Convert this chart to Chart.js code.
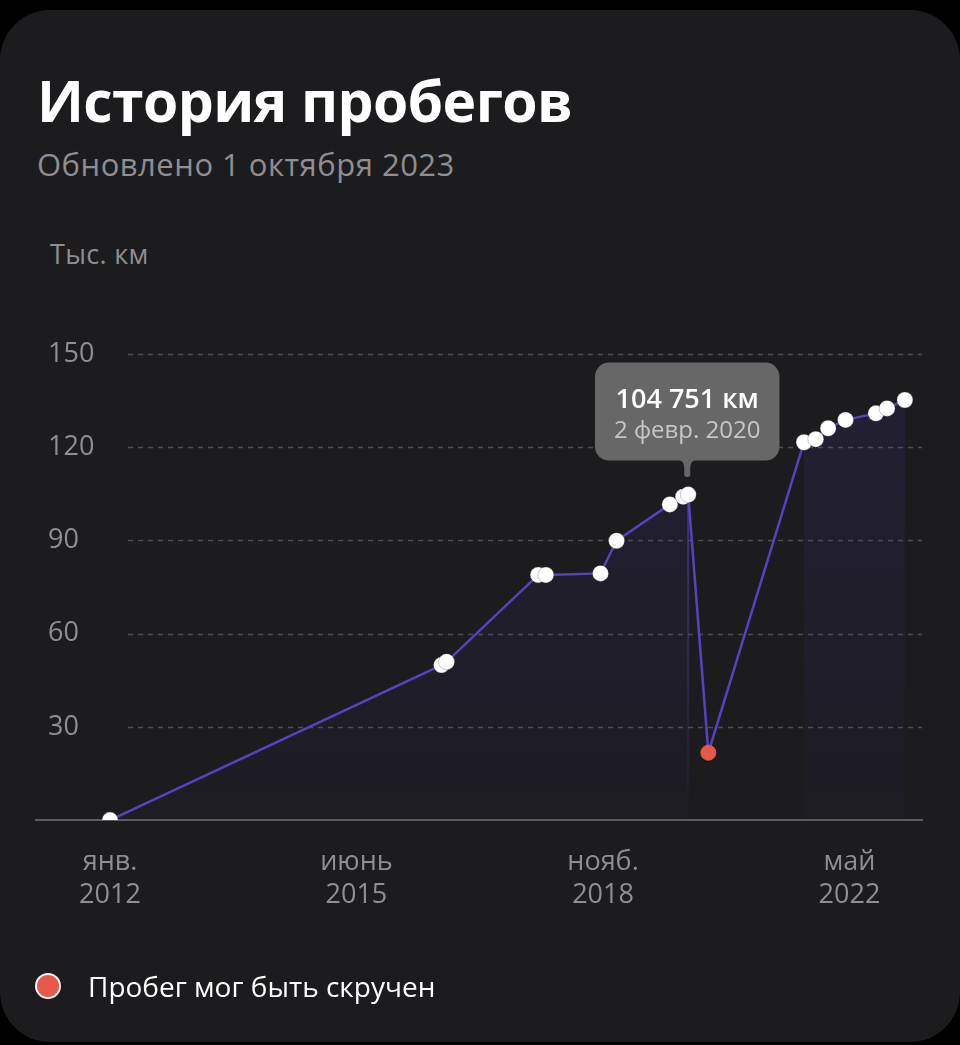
<!DOCTYPE html>
<html lang="ru">
<head>
<meta charset="utf-8">
<title>История пробегов</title>
<script src="https://cdn.jsdelivr.net/npm/chart.js@4.4.0/dist/chart.umd.min.js"></script>
<style>
  html, body { margin: 0; width: 960px; height: 1045px; background: #000; overflow: hidden; font-family: "Open Sans", sans-serif; }
  .card { position: absolute; left: 0; top: 10px; width: 960px; height: 1032px; background: #1c1c1e; border-radius: 50px; }
  .title { position: absolute; left: 37px; top: 72px; margin: 0; font-size: 57px; line-height: 1; font-weight: 700; color: #fff; letter-spacing: -0.6px; }
  .subtitle { position: absolute; left: 37px; top: 149px; font-size: 31px; line-height: 1; color: #8e8e93; letter-spacing: 0.5px; }
  .unit { position: absolute; left: 50px; top: 240px; font-size: 27px; line-height: 1; color: #8e8e93; letter-spacing: 0.3px; }
  .legend { position: absolute; left: 35px; top: 967px; display: flex; align-items: center; font-size: 28px; color: #fff; }
  .legend i { display: inline-block; width: 22px; height: 22px; border-radius: 50%; background: #e5584b; border: 2px solid #f2f2f2; margin-right: 27px; }
  canvas { position: absolute; left: 0; top: 0; }
</style>
</head>
<body>
<div class="card"></div>
<h1 class="title">История пробегов</h1>
<div class="subtitle">Обновлено 1 октября 2023</div>
<div class="unit">Тыс. км</div>
<canvas id="chart" width="960" height="1045"></canvas>
<div class="legend"><i></i>Пробег мог быть скручен</div>
<script>
// --- данные ---
const dates = [
  "2012-01-01", "2016-08-21", "2016-09-16", "2017-12-28", "2018-02-05",
  "2018-11-11", "2019-02-01", "2019-10-31", "2020-01-07", "2020-02-02",
  "2020-05-15", "2021-09-16", "2021-11-15", "2022-01-17", "2022-04-16",
  "2022-09-18", "2022-11-14", "2023-02-13"
];
// тыс. км
const mileage = [
  0, 49.9, 50.95, 78.9, 78.9,
  79.4, 89.9, 101.6, 104.1, 104.751,
  21.7, 121.6, 122.6, 126.1, 128.8,
  130.9, 132.5, 135.2
];
const rolledBack = [
  false, false, false, false, false,
  false, false, false, false, false,
  true, false, false, false, false,
  false, false, false
];
const calloutDate = "2020-02-02";

const tickDates = ["2012-01-01", "2015-06-13", "2018-11-24", "2022-05-06"];
const tickLabels = [["янв.", "2012"], ["июнь", "2015"], ["нояб.", "2018"], ["май", "2022"]];
const yTicks = [0, 30, 60, 90, 120, 150];

const monthsShort = ["янв.", "февр.", "мар.", "апр.", "мая", "июн.", "июл.", "авг.", "сент.", "окт.", "нояб.", "дек."];

// дата -> дробный год
const toYear = (s) => {
  const [y, m, d] = s.split("-").map(Number);
  const start = Date.UTC(y, 0, 1);
  const len = Date.UTC(y + 1, 0, 1) - start;
  return y + (Date.UTC(y, m - 1, d) - start) / len;
};

const points = dates.map((d, i) => ({ x: toYear(d), y: mileage[i] }));
// заливка только под "честными" участками
const fillPoints = points.map((p, i) => ({ x: p.x, y: rolledBack[i] ? null : p.y }));
const calloutIndex = dates.indexOf(calloutDate);

const numFmt = new Intl.NumberFormat("ru-RU");
const fmtDate = (s) => {
  const [y, m, d] = s.split("-").map(Number);
  return `${d} ${monthsShort[m - 1]} ${y}`;
};

Chart.defaults.font.family = "'Open Sans', sans-serif";

// пунктирная сетка (начинается правее подписей)
const dashedGrid = {
  id: "dashedGrid",
  beforeDatasetsDraw(chart) {
    const { ctx, chartArea, scales: { y } } = chart;
    ctx.save();
    ctx.strokeStyle = "#4e4e52";
    ctx.lineWidth = 1.5;
    ctx.setLineDash([5, 5]);
    y.ticks.forEach((t) => {
      if (t.value === 0) return;
      const py = Math.round(y.getPixelForValue(t.value)) + 0.5;
      ctx.beginPath();
      ctx.moveTo(chartArea.left + 92, py);
      ctx.lineTo(chartArea.right, py);
      ctx.stroke();
    });
    ctx.restore();

    // вертикальная линия под выбранной точкой
    const pt = chart.getDatasetMeta(0).data[calloutIndex];
    if (!pt) return;
    const g = ctx.createLinearGradient(0, pt.y, 0, chartArea.bottom);
    g.addColorStop(0, "rgba(80, 62, 170, 0.75)");
    g.addColorStop(1, "rgba(80, 62, 170, 0)");
    ctx.save();
    ctx.strokeStyle = g;
    ctx.lineWidth = 2;
    ctx.beginPath();
    ctx.moveTo(pt.x, pt.y);
    ctx.lineTo(pt.x, chartArea.bottom - 10);
    ctx.stroke();
    ctx.restore();
  },
};

// подсказка над точкой
const callout = {
  id: "callout",
  afterDraw(chart) {
    const pt = chart.getDatasetMeta(0).data[calloutIndex];
    if (!pt) return;
    const { ctx } = chart;
    const title = numFmt.format(Math.round(mileage[calloutIndex] * 1000)) + " км";
    const sub = fmtDate(dates[calloutIndex]);
    ctx.save();
    ctx.font = "600 27px 'Open Sans'";
    const w1 = ctx.measureText(title).width;
    ctx.font = "24px 'Open Sans'";
    const w2 = ctx.measureText(sub).width;
    const w = Math.max(w1, w2) + 38;
    const h = 98;
    const bottom = pt.y - 34;
    const top = bottom - h;
    const cx = pt.x - 1;
    const left = cx - w / 2;
    ctx.fillStyle = "#676767";
    ctx.beginPath();
    ctx.roundRect(left, top, w, h, 14);
    ctx.fill();
    // ножка
    ctx.beginPath();
    ctx.moveTo(cx - 10, bottom - 1);
    ctx.quadraticCurveTo(cx - 3, bottom, cx - 3, bottom + 7);
    ctx.lineTo(cx - 3, bottom + 15);
    ctx.quadraticCurveTo(cx, bottom + 18, cx + 3, bottom + 15);
    ctx.lineTo(cx + 3, bottom + 7);
    ctx.quadraticCurveTo(cx + 3, bottom, cx + 10, bottom - 1);
    ctx.closePath();
    ctx.fill();

    ctx.textAlign = "center";
    ctx.textBaseline = "alphabetic";
    ctx.fillStyle = "#ffffff";
    ctx.font = "600 27px 'Open Sans'";
    ctx.fillText(title, cx, top + 45);
    ctx.fillStyle = "#c6c6c6";
    ctx.font = "24px 'Open Sans'";
    ctx.fillText(sub, cx, top + 75);
    ctx.restore();
  },
};

const ctx = document.getElementById("chart").getContext("2d");

new Chart(ctx, {
  type: "line",
  data: {
    datasets: [
      {
        label: "Пробег",
        data: points,
        borderColor: "#5a40c2",
        borderWidth: 2.5,
        tension: 0,
        fill: false,
        pointRadius: (c) => (rolledBack[c.dataIndex] ? 7.5 : 8),
        pointBackgroundColor: (c) => (rolledBack[c.dataIndex] ? "#e5584b" : "#ffffff"),
        pointBorderColor: (c) => (rolledBack[c.dataIndex] ? "#e5584b" : "rgba(40,40,44,0.25)"),
        pointBorderWidth: 1,
      },
      {
        label: "fill",
        data: fillPoints,
        spanGaps: false,
        borderWidth: 0,
        pointRadius: 0,
        fill: "origin",
        backgroundColor: (c) => {
          const area = c.chart.chartArea;
          if (!area) return "rgba(80,60,190,0.08)";
          const g = c.chart.ctx.createLinearGradient(0, area.top, 0, area.bottom);
          g.addColorStop(0, "rgba(85, 65, 200, 0.13)");
          g.addColorStop(1, "rgba(85, 65, 200, 0.03)");
          return g;
        },
      },
    ],
  },
  options: {
    responsive: false,
    animation: false,
    devicePixelRatio: 1,
    layout: { padding: { left: 12, right: 38, top: 354, bottom: 107 } },
    plugins: {
      legend: { display: false },
      tooltip: { enabled: false },
    },
    scales: {
      x: {
        type: "linear",
        min: 2010.965,
        max: 2023.357,
        afterBuildTicks: (s) => { s.ticks = tickDates.map((d) => ({ value: toYear(d) })); },
        grid: { display: false, drawTicks: false },
        border: { display: true, color: "#5c5c5f", width: 2 },
        ticks: {
          autoSkip: false,
          maxRotation: 0,
          padding: 26,
          color: "#8e8e93",
          font: { size: 27, lineHeight: 1.22 },
          callback: (v, i) => tickLabels[i],
        },
      },
      y: {
        min: 0,
        max: 150,
        afterBuildTicks: (s) => { s.ticks = yTicks.map((v) => ({ value: v })); },
        grid: { display: false, drawTicks: false },
        border: { display: false },
        ticks: {
          mirror: true,
          padding: 12,
          color: "#8e8e93",
          font: { size: 27 },
          callback: (v) => (v === 0 ? "" : v),
        },
      },
    },
  },
  plugins: [dashedGrid, callout],
});
</script>
</body>
</html>
